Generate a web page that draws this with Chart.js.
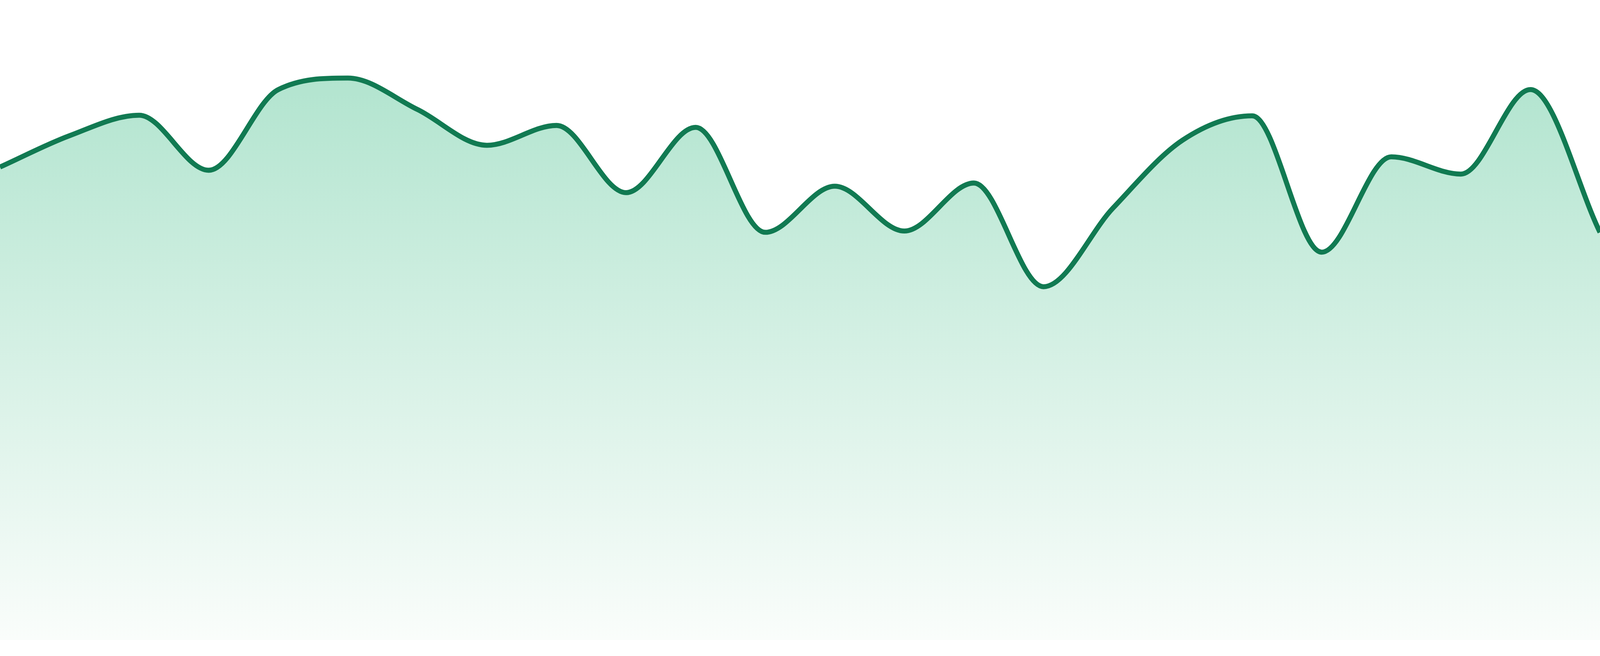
<!DOCTYPE html>
<html>
<head>
<meta charset="utf-8">
<script src="https://cdn.jsdelivr.net/npm/chart.js@4.4.1/dist/chart.umd.min.js"></script>
<style>
    html, body { margin: 0; padding: 0; background: #ffffff; width: 100%; height: 100%; overflow: hidden; }
    #wrap { width: 100vw; height: 100vh; position: relative; }
    canvas { display: block; }
</style>
</head>
<body>
<div id="wrap"><canvas id="areaChart"></canvas></div>
<script>
// categories (axis hidden in the picture)
const labels = ['1', '2', '3', '4', '5', '6', '7', '8', '9', '10', '11', '12',
    '13', '14', '15', '16', '17', '18', '19', '20', '21', '22', '23', '24'];

// series values
const values = [73.9, 78.8, 82.0, 73.4, 86.0, 87.8, 82.9, 77.3, 80.4, 69.9, 80.1, 63.7,
    70.9, 63.9, 71.4, 55.2, 67.5, 78.1, 81.9, 60.6, 75.5, 72.8, 86.0, 63.7];

const yMin = 0;
const yMax = 100;

const lineColor = '#117a52';

// sizes below were measured on a 4800px wide picture, scale them to the viewport
const s = window.innerWidth / 4800;

function areaGradient(context) {
    const chart = context.chart;
    const area = chart.chartArea;
    if (!area) {
        return 'rgba(17, 170, 110, 0.3)';
    }
    const g = chart.ctx.createLinearGradient(0, area.top, 0, area.bottom);
    g.addColorStop(0, '#a8e1c9');
    g.addColorStop(1, '#fafdfb');
    return g;
}

const ctx = document.getElementById('areaChart').getContext('2d');
new Chart(ctx, {
    type: 'line',
    data: {
        labels: labels,
        datasets: [{
            data: values,
            fill: 'start',
            backgroundColor: areaGradient,
            borderColor: lineColor,
            borderWidth: 15 * s,
            pointRadius: 0,
            pointHoverRadius: 0,
            cubicInterpolationMode: 'monotone',
        }]
    },
    options: {
        responsive: true,
        maintainAspectRatio: false,
        animation: false,
        layout: {
            padding: { top: 0, left: 0, right: 0, bottom: 48 * s }
        },
        plugins: {
            legend: { display: false },
            tooltip: { enabled: false }
        },
        scales: {
            x: { display: false },
            y: { display: false, min: yMin, max: yMax }
        }
    }
});
</script>
</body>
</html>
